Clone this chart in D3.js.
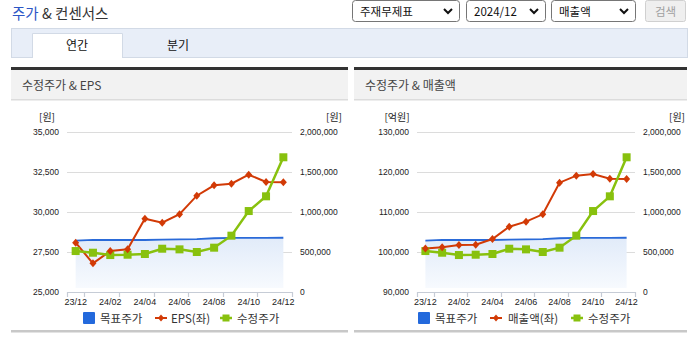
<!DOCTYPE html>
<html><head><meta charset="utf-8">
<script src="https://cdn.jsdelivr.net/npm/d3@7"></script>
<style>
html,body{margin:0;padding:0;background:#fff;}
svg{display:block;}
text{font-family:"Noto Sans CJK KR","Noto Sans",sans-serif;}
.num{font-family:"Liberation Sans",Arial,sans-serif;}
</style></head>
<body>
<script>
// ---- data ----
const categories = ['23/12','24/01','24/02','24/03','24/04','24/05','24/06','24/07','24/08','24/09','24/10','24/11','24/12'];
const epsValues   = [28080,26790,27560,27670,29580,29330,29860,31020,31670,31770,32330,31880,31860];
const salesValues = [100900,101170,101750,101830,103250,106330,107580,109420,117330,119080,119500,118330,118250];
const priceValues = [512000,491000,462000,466000,475000,541000,533000,500000,554000,704000,1012000,1196000,1684000];
const targetValues= [641000,652000,650000,650000,650000,655000,658000,662000,672000,676000,676000,677000,678000];
const epsTicks   = [25000,27500,30000,32500,35000];
const salesTicks = [90000,100000,110000,120000,130000];
const priceTicks = [0,500000,1000000,1500000,2000000];

const C = {red:'#d23a06', green:'#88c10e', blue:'#2a6ad8', grid:'#dcdcdc', axis:'#c6ccd6', text:'#333'};
const fmt = d3.format(',');

const svg = d3.select('body').append('svg').attr('width',691).attr('height',340);
const defs = svg.append('defs');
const grad = defs.append('linearGradient').attr('id','tgrad').attr('x1',0).attr('y1',0).attr('x2',0).attr('y2',1);
grad.append('stop').attr('offset','0%').attr('stop-color','#e1ebf9');
grad.append('stop').attr('offset','100%').attr('stop-color','#f7fafe');

// ---- header ----
const title = svg.append('text').attr('x',12).attr('y',19).attr('font-size',14.5);
title.append('tspan').attr('fill','#2c56c6').text('주가');
title.append('tspan').attr('fill','#333').text(' & 컨센서스');

function selectBox(x,w,label){
  const g = svg.append('g');
  g.append('rect').attr('x',x+0.5).attr('y',0.5).attr('width',w).attr('height',21).attr('rx',3)
    .attr('fill','#fff').attr('stroke','#767676');
  g.append('text').attr('x',x+8).attr('y',15.5).attr('font-size',11.5).attr('fill','#111').text(label);
  g.append('path').attr('d',`M${x+w-15},9 l4,4 l4,-4`).attr('fill','none').attr('stroke','#111').attr('stroke-width',2);
}
selectBox(352,107,'주재무제표');
selectBox(466,79,'2024/12');
selectBox(551,84,'매출액');
svg.append('rect').attr('x',645.5).attr('y',0.5).attr('width',40).attr('height',21).attr('rx',2)
  .attr('fill','#efefef').attr('stroke','#d0d0d0');
svg.append('text').attr('x',665.5).attr('y',15.5).attr('text-anchor','middle').attr('font-size',11.5).attr('fill','#a0a0a0').text('검색');

// tabs
svg.append('rect').attr('x',11.5).attr('y',28.5).attr('width',676).attr('height',29).attr('fill','#e8eef8').attr('stroke','#d2dae6');
svg.append('path').attr('d','M32.5,58 V33.5 H122.5 V58').attr('fill','#fff').attr('stroke','#d2dae6');
svg.append('text').attr('x',77).attr('y',50).attr('text-anchor','middle').attr('font-size',12).attr('fill','#111').text('연간');
svg.append('text').attr('x',178).attr('y',50).attr('text-anchor','middle').attr('font-size',12).attr('fill','#111').text('분기');

// ---- panels ----
function panel(cfg){
  const g = svg.append('g');
  const px0 = cfg.px0, px1 = cfg.px1;
  g.append('rect').attr('x',px0).attr('y',67).attr('width',px1-px0).attr('height',3).attr('fill','#333');
  g.append('rect').attr('x',px0).attr('y',70).attr('width',px1-px0).attr('height',30).attr('fill','#f2f2f2');
  g.append('rect').attr('x',px0).attr('y',99).attr('width',px1-px0).attr('height',1.5).attr('fill','#dcdcdc');
  g.append('text').attr('x',px0+11).attr('y',90).attr('font-size',12).attr('fill','#444').text(cfg.title);
  g.append('rect').attr('x',px0).attr('y',330).attr('width',px1-px0).attr('height',2.5).attr('fill','#c8c8c8');

  const yTop = 132, yBot = 292;
  const x = d3.scaleBand().domain(categories).range([cfg.x0,cfg.x1]).padding(0);
  const cx = d => x(d) + x.bandwidth()/2;
  const yL = d3.scaleLinear().domain(d3.extent(cfg.leftTicks)).range([yBot,yTop]);
  const yR = d3.scaleLinear().domain(d3.extent(priceTicks)).range([yBot,yTop]);

  // grid
  g.append('g').selectAll('line').data(cfg.leftTicks.slice(1)).join('line')
    .attr('x1',cfg.x0).attr('x2',cfg.x1).attr('y1',d=>Math.round(yL(d))+0.5).attr('y2',d=>Math.round(yL(d))+0.5)
    .attr('stroke',C.grid);

  // left axis labels
  const la = d3.axisLeft(yL).tickValues(cfg.leftTicks).tickFormat(fmt).tickSize(0).tickPadding(8);
  const lag = g.append('g').attr('transform',`translate(${cfg.x0},0)`).call(la);
  lag.select('.domain').remove();
  lag.selectAll('text').attr('class','num').attr('font-size',8.5).attr('fill','#222').attr('dy','0.35em');
  const ra = d3.axisRight(yR).tickValues(priceTicks).tickFormat(fmt).tickSize(0).tickPadding(8);
  const rag = g.append('g').attr('transform',`translate(${cfg.x1},0)`).call(ra);
  rag.select('.domain').remove();
  rag.selectAll('text').attr('class','num').attr('font-size',8.5).attr('fill','#222').attr('dy','0.35em');

  g.append('text').attr('x',cfg.unitLX).attr('y',121).attr('text-anchor','middle').attr('font-size',10).attr('fill','#222').text(cfg.unitL);
  g.append('text').attr('x',cfg.unitRX).attr('y',121).attr('text-anchor','end').attr('font-size',10).attr('fill','#222').text('[원]');

  // target area + line (right axis)
  const area = d3.area().x((d,i)=>cx(categories[i])).y0(yBot-4).y1(d=>yR(d));
  g.append('path').datum(targetValues).attr('d',area).attr('fill','url(#tgrad)');
  const tline = d3.line().x((d,i)=>cx(categories[i])).y(d=>yR(d));
  g.append('path').datum(targetValues).attr('d',tline).attr('fill','none').attr('stroke',C.blue).attr('stroke-width',1.8);

  // x axis
  g.append('line').attr('x1',cfg.x0).attr('x2',cfg.x1).attr('y1',yBot+0.5).attr('y2',yBot+0.5).attr('stroke',C.axis).attr('stroke-width',1.2);
  const tickPos = [cfg.x0].concat(categories.filter((c,i)=>i%2===0).map(c=>x(c)+x.bandwidth()));
  g.append('g').selectAll('line').data(tickPos).join('line')
    .attr('x1',d=>Math.round(d)+0.5).attr('x2',d=>Math.round(d)+0.5).attr('y1',yBot).attr('y2',yBot+5).attr('stroke',C.axis).attr('stroke-width',1.2);
  g.append('g').selectAll('text').data(categories.filter((c,i)=>i%2===0)).join('text')
    .attr('class','num').attr('x',d=>cx(d)).attr('y',305).attr('text-anchor','middle').attr('font-size',9).attr('fill','#222').text(d=>d);

  // left series (red)
  const lline = d3.line().x((d,i)=>cx(categories[i])).y(d=>yL(d));
  g.append('path').datum(cfg.leftValues).attr('d',lline).attr('fill','none').attr('stroke',C.red).attr('stroke-width',2);
  // price (green)
  const pline = d3.line().x((d,i)=>cx(categories[i])).y(d=>yR(d));
  g.append('path').datum(priceValues).attr('d',pline).attr('fill','none').attr('stroke',C.green).attr('stroke-width',2.5);
  g.append('g').selectAll('rect').data(priceValues).join('rect')
    .attr('x',(d,i)=>cx(categories[i])-4).attr('y',d=>yR(d)-4).attr('width',8).attr('height',8).attr('fill',C.green);
  g.append('g').selectAll('path').data(cfg.leftValues).join('path')
    .attr('d',(d,i)=>`M${cx(categories[i])},${yL(d)-4} l3.5,4 l-3.5,4 l-3.5,-4 z`).attr('fill',C.red);

  // legend
  const lg = g.append('g');
  const L = cfg.legend;
  lg.append('rect').attr('x',L[0]).attr('y',312).attr('width',12).attr('height',12).attr('rx',1).attr('fill','#2369dc');
  lg.append('text').attr('x',L[1]).attr('y',322.5).attr('font-size',11.5).attr('fill',C.text).text('목표주가');
  lg.append('line').attr('x1',L[2]).attr('x2',L[2]+12).attr('y1',318).attr('y2',318).attr('stroke',C.red).attr('stroke-width',2);
  lg.append('path').attr('d',`M${L[2]+6},314.5 l3,3.5 l-3,3.5 l-3,-3.5 z`).attr('fill',C.red);
  lg.append('text').attr('x',L[3]).attr('y',322.5).attr('font-size',11.5).attr('fill',C.text).text(cfg.leftName);
  lg.append('line').attr('x1',L[4]).attr('x2',L[4]+12).attr('y1',318).attr('y2',318).attr('stroke',C.green).attr('stroke-width',2.5);
  lg.append('rect').attr('x',L[4]+2.5).attr('y',314.5).attr('width',7).attr('height',7).attr('fill',C.green);
  lg.append('text').attr('x',L[5]).attr('y',322.5).attr('font-size',11.5).attr('fill',C.text).text('수정주가');
}

panel({px0:11, px1:348, x0:67, x1:292, title:'수정주가 & EPS', leftTicks:epsTicks, leftValues:epsValues,
  leftName:'EPS(좌)', unitL:'[원]', unitLX:47, unitRX:342, legend:[83,100,155,171,220,237]});
panel({px0:354, px1:687, x0:417, x1:635, title:'수정주가 & 매출액', leftTicks:salesTicks, leftValues:salesValues,
  leftName:'매출액(좌)', unitL:'[억원]', unitLX:397, unitRX:685, legend:[418,435,490,508,571,588]});
</script>
</body></html>
